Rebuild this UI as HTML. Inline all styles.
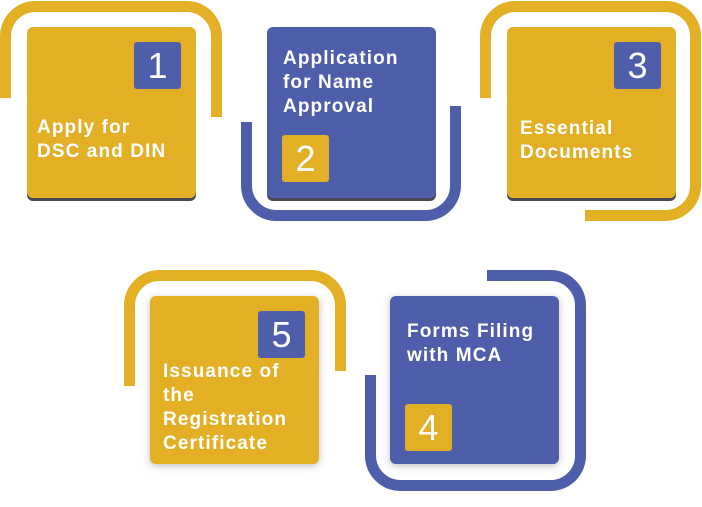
<!DOCTYPE html>
<html><head><style>
body{margin:0;background:#fff;width:702px;height:507px;overflow:hidden;position:relative;font-family:"Liberation Sans",sans-serif}
.c{position:absolute;width:169px;height:171px;border-radius:6px;box-shadow:0 3px 0 #444a50}
.c2{box-shadow:0 2px 8px rgba(0,0,0,0.25)}
.g{background:#E3AF25}.b{background:#4F5EAA}
.bd{position:absolute;width:47px;height:47px;border-radius:3px;color:#fff;font-size:36px;text-align:center;line-height:47px}
.t{position:absolute;color:#fff;font-weight:bold;font-size:19px;line-height:24px;letter-spacing:1.1px}
svg{position:absolute;left:0;top:0}
</style></head><body>
<svg width="702" height="507">
<g fill="none" stroke-width="11">
<path d="M5.5 98 V36 A30 30 0 0 1 35.5 6.5 H186 A30 30 0 0 1 216.5 36.5 V117" stroke="#E3AF25"/>
<path d="M246.5 122 V186 A30 30 0 0 0 276.5 215.5 H425 A30 30 0 0 0 455.5 185 V106" stroke="#4F5EAA"/>
<path d="M485.5 98 V36 A30 30 0 0 1 515.5 6.5 H665 A30 30 0 0 1 695.5 36.5 V186 A30 30 0 0 1 665.5 215.5 H585" stroke="#E3AF25"/>
<path d="M129.5 386 V306 A30 30 0 0 1 159.5 275.5 H310 A30 30 0 0 1 340.5 305.5 V371" stroke="#E3AF25"/>
<path d="M370.5 375 V455 A30 30 0 0 0 400.5 485.5 H550 A30 30 0 0 0 580.5 455 V306 A30 30 0 0 0 550.5 275.5 H487" stroke="#4F5EAA"/>
</g>
</svg>
<div class="c g" style="left:27px;top:27px"></div>
<div class="bd b" style="left:134px;top:42px">1</div>
<div class="t" style="left:37px;top:116px">Apply for<br>DSC and DIN</div>
<div class="c b" style="left:267px;top:27px"></div>
<div class="t" style="left:283px;top:47px">Application<br>for Name<br>Approval</div>
<div class="bd g" style="left:282px;top:135px">2</div>
<div class="c g" style="left:507px;top:27px"></div>
<div class="bd b" style="left:614px;top:42px">3</div>
<div class="t" style="left:520px;top:117px">Essential<br>Documents</div>
<div class="c c2 g" style="left:150px;top:296px;height:168px"></div>
<div class="bd b" style="left:258px;top:311px">5</div>
<div class="t" style="left:163px;top:360px">Issuance of<br>the<br>Registration<br>Certificate</div>
<div class="c c2 b" style="left:390px;top:296px;height:168px"></div>
<div class="t" style="left:407px;top:320px">Forms Filing<br>with MCA</div>
<div class="bd g" style="left:405px;top:404px">4</div>
</body></html>
